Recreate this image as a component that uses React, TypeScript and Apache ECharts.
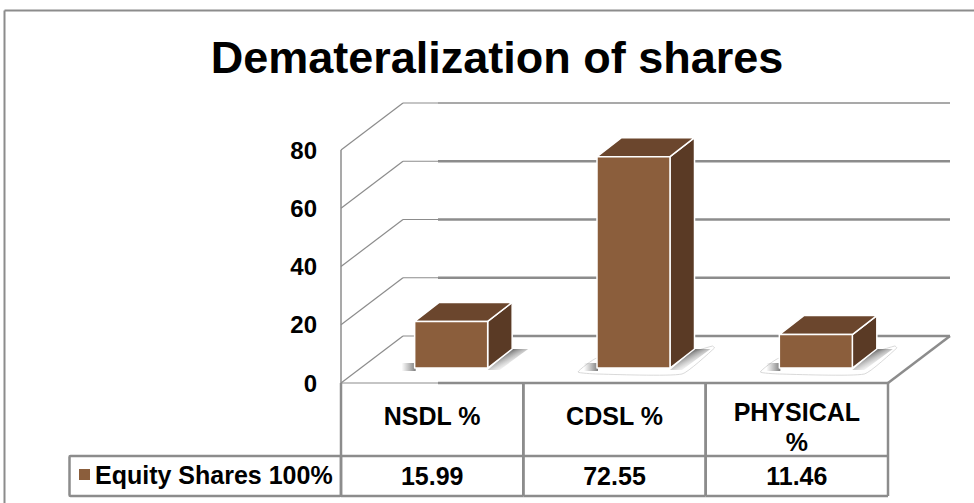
import React, { useEffect, useRef } from "react";
import * as echarts from "echarts";

const titleText = "Demateralization of shares";
const seriesName = "Equity Shares 100%";
const categories = ["NSDL %", "CDSL %", "PHYSICAL\n%"];
const shareValues = [15.99, 72.55, 11.46];
const valueLabels = ["15.99", "72.55", "11.46"];
const yTicks = [0, 20, 40, 60, 80];

const GRAY = "#8c8c8c";
const FONT = '"Liberation Sans", Arial, sans-serif';
const C_FRONT = "#8b5e3c";
const C_TOP = "#6b462d";
const C_SIDE = "#5a3a25";

// projection of the 3D box, in pixels
const WALL_DX = 62;
const WALL_DY = 47;
const TABLE_R1 = 73;
const TABLE_R2 = 113;
const BAR_SHIFT = 19;
const BAR_FLOOR = 15;
const BAR_W = 73;
const BAR_DX = 24.5;
const BAR_DY = 19;

const line = (x1: number, y1: number, x2: number, y2: number, w = 1, color = GRAY) => ({
  type: "line",
  shape: { x1, y1, x2, y2 },
  style: { stroke: color, lineWidth: w, fill: "none" },
  silent: true,
});

const renderWall = (_p: any, api: any) => {
  const v = api.value(0);
  const [xl, y] = api.coord([0, v]);
  const size = api.size([1, 0]);
  const xr = xl - size[0] / 2 + size[0] * 3;
  const left = xl - size[0] / 2;
  const children: any[] = [];
  children.push(line(left, y, left + WALL_DX, y - WALL_DY, 1.2));
  if (v === 0) {
    children.push(line(left, y, left + 97, y, 1.2));
    children.push(line(left + 97, y, xr, y, 2.5));
    children.push(line(xr, y, xr + WALL_DX, y - WALL_DY, 2.5));
    children.push(line(left + WALL_DX, y - WALL_DY, left + 97, y - WALL_DY, 1.2));
    children.push(line(left + 97, y - WALL_DY, xr + WALL_DX, y - WALL_DY, 2.5));
  } else {
    children.push(line(left + WALL_DX, y - WALL_DY, left + 97, y - WALL_DY, 1.2));
    children.push(line(left + 97, y - WALL_DY, xr + WALL_DX, y - WALL_DY, v === 80 ? 1.5 : 2.5));
  }
  return { type: "group", children };
};

const renderAxisLine = (_p: any, api: any) => {
  const a = api.coord([0, 0]);
  const b = api.coord([0, 80]);
  const w = api.size([1, 0])[0];
  return line(a[0] - w / 2, a[1], b[0] - w / 2, b[1], 1.5);
};

const renderBar = (_p: any, api: any) => {
  const i = api.value(0);
  const v = api.value(1);
  const base = api.coord([i, 0]);
  const top = api.coord([i, v]);
  const x0 = base[0] + BAR_SHIFT - BAR_W / 2;
  const x1 = x0 + BAR_W;
  const yb = base[1] - BAR_FLOOR;
  const yt = top[1] - BAR_FLOOR;
  const edge = { stroke: "#ffffff", lineWidth: 1.5, lineJoin: "round" };
  const poly = (pts: number[][], fill: any, extra: any = {}) => ({
    type: "polygon",
    shape: { points: pts },
    style: { fill, ...edge, ...extra },
    silent: true,
  });
  const halo = {
    type: "polygon",
    shape: {
      smooth: 0.15,
      points: [
        [x0 - 19, yb + 4],
        [x0, yb + 6],
        [x1 + 12, yb + 6],
        [x1 + BAR_DX + 20, yb - BAR_DY - 1],
        [x1 + BAR_DX + 18, yb - BAR_DY - 3],
        [x1, yb - 10],
        [x0, yb - 10],
      ],
    },
    style: { fill: "#ffffff", stroke: "#cfcfcf", lineWidth: 0.8 },
    silent: true,
  };
  const shadowLeft = {
    type: "rect",
    shape: { x: x0 - 13, y: yb - 5, width: 14, height: 8 },
    style: {
      fill: new echarts.graphic.LinearGradient(0, 0, 1, 0, [
        { offset: 0, color: "rgba(120,120,120,0)" },
        { offset: 1, color: "rgba(110,110,110,0.9)" },
      ]),
    },
    silent: true,
  };
  const shadowRight = {
    type: "polygon",
    shape: {
      points: [
        [x1, yb + 2],
        [x1 + BAR_DX, yb - BAR_DY],
        [x1 + BAR_DX + 16, yb - BAR_DY],
        [x1 + 12, yb + 2],
      ],
    },
    style: {
      fill: new echarts.graphic.LinearGradient(0, 0, 1, 1, [
        { offset: 0.3, color: "rgba(95,95,95,0.95)" },
        { offset: 0.72, color: "rgba(200,200,200,0)" },
      ]),
    },
    silent: true,
  };
  const children: any[] = [];
  if (i > 0) children.push(halo);
  children.push(shadowLeft, shadowRight);
  children.push(
    poly(
      [
        [x1, yb],
        [x1 + BAR_DX, yb - BAR_DY],
        [x1 + BAR_DX, yt - BAR_DY],
        [x1, yt],
      ],
      C_SIDE
    ),
    poly(
      [
        [x0, yt],
        [x1, yt],
        [x1 + BAR_DX, yt - BAR_DY],
        [x0 + BAR_DX, yt - BAR_DY],
      ],
      C_TOP
    ),
    poly(
      [
        [x0, yb],
        [x1, yb],
        [x1, yt],
        [x0, yt],
      ],
      C_FRONT
    )
  );
  return { type: "group", children };
};

const renderTable = (_p: any, api: any) => {
  const i = api.value(0);
  const c = api.coord([i, 0]);
  const w = api.size([1, 0])[0];
  const xl = c[0] - w / 2;
  const xr = c[0] + w / 2;
  const y = c[1];
  return {
    type: "group",
    children: [
      line(xl, y, xl, y + TABLE_R2, 2.5),
      line(xr, y, xr, y + TABLE_R2, 2.5),
      line(xl, y + TABLE_R1, xr, y + TABLE_R1, 2.5),
      line(xl, y + TABLE_R2, xr, y + TABLE_R2, 2.5),
      {
        type: "text",
        x: c[0],
        y: y + (TABLE_R1 + TABLE_R2) / 2,
        style: {
          text: valueLabels[i],
          fill: "#000",
          font: `bold 25px ${FONT}`,
          textAlign: "center",
          textVerticalAlign: "middle",
        },
        silent: true,
      },
    ],
  };
};

export default function App() {
  const ref = useRef<HTMLDivElement>(null);
  useEffect(() => {
    document.body.style.margin = "0";
    const chart = echarts.init(ref.current!, undefined, { renderer: "svg" });
    chart.setOption({
      animation: false,
      backgroundColor: "#ffffff",
      title: {
        text: titleText,
        left: 492,
        top: 30,
        textAlign: "center",
        textStyle: { fontFamily: FONT, fontWeight: "bold", fontSize: 45, color: "#000" },
      },
      grid: { left: 341, top: 150, width: 547, height: 233, containLabel: false },
      legend: {
        show: true,
        data: [{ name: seriesName, icon: "rect", itemStyle: { color: C_FRONT } }],
        left: 79,
        top: 462,
        padding: 0,
        itemWidth: 11,
        itemHeight: 11,
        itemGap: 0,
        textStyle: { fontFamily: FONT, fontWeight: "bold", fontSize: 25, color: "#000" },
        selectedMode: false,
      },
      xAxis: {
        type: "category",
        data: categories.map((c) =>
          c.includes("\n") ? c : { value: c, textStyle: { padding: [4, 0, 0, 0] } }
        ),
        axisLine: { show: false },
        axisTick: { show: false },
        axisLabel: {
          interval: 0,
          margin: 14,
          color: "#000",
          fontFamily: FONT,
          fontWeight: "bold",
          fontSize: 25,
          lineHeight: 30,
        },
      },
      yAxis: {
        type: "value",
        min: 0,
        max: 80,
        interval: 20,
        axisLine: { show: false },
        axisTick: { show: false },
        splitLine: { show: false },
        axisLabel: {
          margin: 24,
          color: "#000",
          fontFamily: FONT,
          fontWeight: "bold",
          fontSize: 24,
        },
      },
      graphic: [
        { type: "line", shape: { x1: 4.5, y1: 10.5, x2: 974, y2: 10.5 }, style: { stroke: GRAY, lineWidth: 2 }, silent: true },
        { type: "line", shape: { x1: 4.5, y1: 10.5, x2: 4.5, y2: 503 }, style: { stroke: GRAY, lineWidth: 2 }, silent: true },
        { type: "rect", shape: { x: 69.5, y: 456, width: 271.5, height: 40, r: 1 }, style: { fill: "none", stroke: GRAY, lineWidth: 2.5 }, silent: true },
      ],
      series: [
        { type: "custom", name: "wall", data: yTicks.map((t) => [t]), renderItem: renderWall, encode: { y: 0 }, z: 1, silent: true },
        { type: "custom", name: "wallAxis", data: [[0]], renderItem: renderAxisLine, z: 1, silent: true },
        {
          type: "custom",
          name: "table",
          data: categories.map((_, i) => [i]),
          renderItem: renderTable,
          encode: { x: 0 },
          z: 2,
          silent: true,
        },
        {
          type: "custom",
          name: seriesName,
          data: shareValues.map((v, i) => [i, v]),
          renderItem: renderBar,
          encode: { x: 0, y: 1 },
          itemStyle: { color: C_FRONT },
          z: 3,
          silent: true,
        },
      ],
    });
    return () => chart.dispose();
  }, []);
  return <div ref={ref} style={{ width: 974, height: 503 }} />;
}
